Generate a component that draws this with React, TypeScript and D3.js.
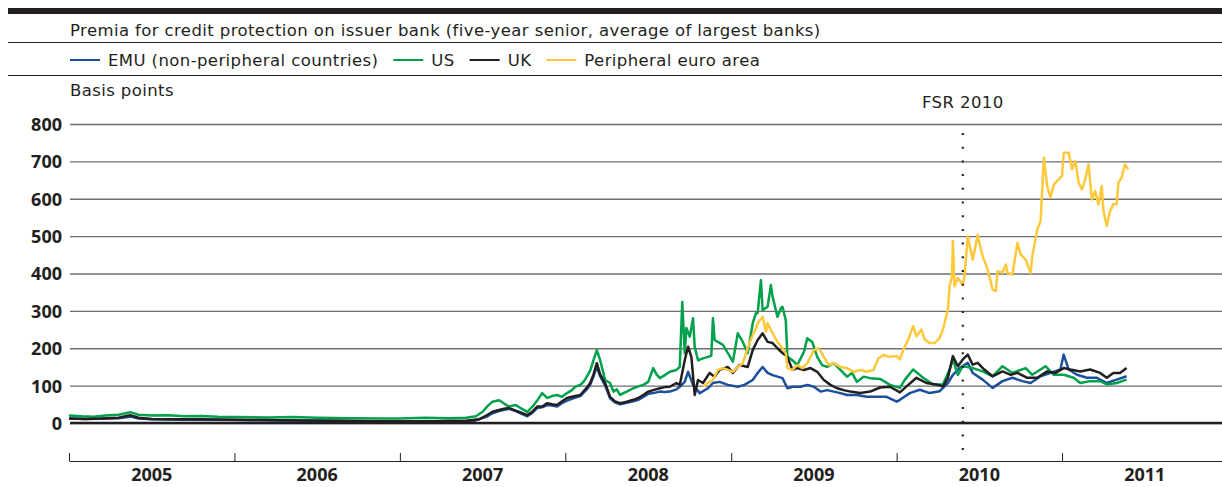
import { useRef, useEffect } from "react";
import { select, scaleTime, scaleLinear, line, axisTop, axisLeft } from "d3";

const title =
  "Premia for credit protection on issuer bank (five-year senior, average of largest banks)";
const unitLabel = "Basis points";
const seriesNames = ["EMU (non-peripheral countries)", "US", "UK", "Peripheral euro area"];
const yTicks = [0, 100, 200, 300, 400, 500, 600, 700, 800];
const yearTicks = [2005, 2006, 2007, 2008, 2009, 2010, 2011, 2012];
const yearLabels = ["2005", "2006", "2007", "2008", "2009", "2010", "2011"];
const fsrLabel = "FSR 2010";
const fsrDate = 2010.4;

// [decimal year, basis points]
const emu = [
  [2005.0, 12], [2005.1, 11], [2005.2, 12], [2005.3, 13], [2005.37, 17], [2005.42, 12],
  [2005.5, 10], [2005.7, 9], [2006.0, 8], [2006.3, 7], [2006.6, 6], [2006.9, 5],
  [2007.2, 5], [2007.45, 6], [2007.53, 18], [2007.56, 26], [2007.6, 32], [2007.66, 38],
  [2007.7, 32], [2007.73, 26], [2007.77, 18], [2007.8, 27], [2007.83, 40], [2007.86, 42],
  [2007.89, 48], [2007.92, 47], [2007.95, 44], [2007.98, 53], [2008.01, 60], [2008.06, 68],
  [2008.09, 72], [2008.13, 90], [2008.15, 102], [2008.17, 125], [2008.19, 150], [2008.21, 125],
  [2008.24, 100], [2008.27, 66], [2008.3, 55], [2008.33, 50], [2008.37, 54], [2008.41, 58],
  [2008.44, 62], [2008.47, 70], [2008.5, 78], [2008.53, 80], [2008.57, 84], [2008.6, 83],
  [2008.63, 84], [2008.67, 90], [2008.69, 97], [2008.72, 110], [2008.74, 137], [2008.77, 102],
  [2008.81, 80], [2008.86, 93], [2008.89, 107], [2008.93, 110], [2008.98, 102], [2009.04, 97],
  [2009.08, 102], [2009.13, 115], [2009.16, 134], [2009.19, 150], [2009.22, 134], [2009.25, 128],
  [2009.28, 124], [2009.31, 120], [2009.34, 93], [2009.37, 97], [2009.42, 97], [2009.46, 102],
  [2009.5, 97], [2009.54, 84], [2009.58, 88], [2009.62, 84], [2009.66, 80], [2009.7, 75],
  [2009.76, 75], [2009.82, 70], [2009.88, 70], [2009.94, 70], [2010.0, 57], [2010.02, 62],
  [2010.08, 80], [2010.14, 89], [2010.2, 80], [2010.26, 85], [2010.31, 107], [2010.34, 129],
  [2010.38, 147], [2010.43, 161], [2010.46, 134], [2010.52, 116], [2010.58, 94], [2010.64, 112],
  [2010.7, 121], [2010.76, 112], [2010.81, 107], [2010.87, 125], [2010.93, 134], [2010.99, 143],
  [2011.01, 183], [2011.04, 143], [2011.09, 129], [2011.15, 121], [2011.21, 121], [2011.27, 107],
  [2011.33, 116], [2011.39, 125],
];

const us = [
  [2005.0, 20], [2005.08, 18], [2005.15, 17], [2005.22, 20], [2005.3, 22], [2005.37, 29],
  [2005.42, 22], [2005.5, 20], [2005.6, 21], [2005.7, 18], [2005.8, 19], [2005.9, 17],
  [2006.0, 16], [2006.2, 15], [2006.35, 16], [2006.5, 14], [2006.7, 13], [2006.9, 12],
  [2007.0, 12], [2007.15, 14], [2007.3, 13], [2007.4, 14], [2007.46, 18], [2007.5, 30],
  [2007.53, 45], [2007.56, 57], [2007.6, 61], [2007.63, 52], [2007.66, 44], [2007.7, 48],
  [2007.73, 40], [2007.77, 30], [2007.8, 43], [2007.83, 60], [2007.86, 80], [2007.89, 67],
  [2007.92, 72], [2007.95, 75], [2007.98, 70], [2008.01, 80], [2008.04, 88], [2008.06, 97],
  [2008.09, 102], [2008.11, 110], [2008.13, 124], [2008.15, 140], [2008.17, 168], [2008.19, 195],
  [2008.21, 168], [2008.24, 115], [2008.27, 107], [2008.29, 84], [2008.31, 90], [2008.33, 75],
  [2008.35, 80], [2008.37, 84], [2008.41, 93], [2008.44, 98], [2008.47, 102], [2008.5, 110],
  [2008.53, 147], [2008.55, 130], [2008.57, 120], [2008.6, 128], [2008.63, 137], [2008.67, 142],
  [2008.69, 150], [2008.705, 324], [2008.72, 187], [2008.73, 254], [2008.75, 231], [2008.77, 280],
  [2008.78, 204], [2008.8, 168], [2008.83, 173], [2008.86, 177], [2008.88, 180], [2008.89, 280],
  [2008.9, 222], [2008.92, 217], [2008.95, 209], [2008.98, 187], [2009.01, 164], [2009.04, 240],
  [2009.07, 217], [2009.1, 187], [2009.13, 267], [2009.15, 294], [2009.16, 294], [2009.18, 382],
  [2009.19, 302], [2009.22, 311], [2009.24, 369], [2009.25, 338], [2009.28, 284], [2009.3, 307],
  [2009.31, 311], [2009.33, 275], [2009.34, 177], [2009.37, 168], [2009.4, 155], [2009.44, 191],
  [2009.46, 227], [2009.49, 217], [2009.52, 177], [2009.55, 155], [2009.58, 150], [2009.62, 160],
  [2009.66, 142], [2009.7, 124], [2009.73, 134], [2009.76, 110], [2009.8, 124], [2009.84, 120],
  [2009.9, 118], [2009.96, 102], [2010.02, 94], [2010.05, 116], [2010.1, 143], [2010.16, 121],
  [2010.22, 103], [2010.28, 103], [2010.32, 143], [2010.34, 170], [2010.37, 129], [2010.4, 152],
  [2010.46, 147], [2010.52, 138], [2010.58, 125], [2010.64, 152], [2010.7, 134], [2010.78, 147],
  [2010.82, 129], [2010.9, 152], [2010.95, 129], [2011.01, 129], [2011.07, 121], [2011.11, 107],
  [2011.17, 112], [2011.23, 112], [2011.27, 103], [2011.33, 107], [2011.39, 116],
];

const uk = [
  [2005.0, 12], [2005.1, 11], [2005.2, 12], [2005.3, 14], [2005.37, 21], [2005.42, 14],
  [2005.5, 11], [2005.6, 10], [2005.8, 10], [2006.0, 9], [2006.2, 8], [2006.4, 7],
  [2006.6, 6], [2006.8, 5], [2007.0, 5], [2007.2, 5], [2007.4, 6], [2007.48, 10],
  [2007.53, 22], [2007.56, 30], [2007.6, 35], [2007.63, 38], [2007.66, 40], [2007.7, 33],
  [2007.73, 28], [2007.77, 21], [2007.8, 30], [2007.83, 44], [2007.86, 44], [2007.89, 53],
  [2007.92, 50], [2007.95, 48], [2007.98, 58], [2008.01, 67], [2008.06, 72], [2008.09, 75],
  [2008.13, 95], [2008.15, 107], [2008.17, 130], [2008.19, 160], [2008.21, 130], [2008.24, 107],
  [2008.27, 70], [2008.3, 58], [2008.33, 53], [2008.37, 57], [2008.41, 62], [2008.44, 67],
  [2008.47, 75], [2008.5, 84], [2008.53, 88], [2008.57, 93], [2008.6, 96], [2008.63, 97],
  [2008.67, 107], [2008.69, 102], [2008.72, 168], [2008.74, 204], [2008.76, 177], [2008.78, 75],
  [2008.8, 115], [2008.83, 107], [2008.87, 134], [2008.9, 124], [2008.93, 142], [2008.98, 150],
  [2009.01, 134], [2009.05, 155], [2009.1, 150], [2009.13, 195], [2009.16, 222], [2009.19, 240],
  [2009.22, 217], [2009.25, 214], [2009.28, 200], [2009.31, 187], [2009.34, 177], [2009.37, 142],
  [2009.4, 147], [2009.44, 142], [2009.48, 147], [2009.52, 137], [2009.56, 115], [2009.6, 102],
  [2009.64, 93], [2009.68, 88], [2009.72, 84], [2009.78, 80], [2009.84, 84], [2009.9, 95],
  [2009.96, 97], [2010.02, 82], [2010.06, 98], [2010.12, 121], [2010.18, 107], [2010.24, 103],
  [2010.28, 98], [2010.31, 121], [2010.34, 179], [2010.37, 152], [2010.4, 170], [2010.43, 183],
  [2010.46, 156], [2010.49, 161], [2010.53, 143], [2010.58, 125], [2010.64, 138], [2010.69, 129],
  [2010.73, 134], [2010.79, 121], [2010.85, 121], [2010.91, 138], [2010.96, 134], [2011.01, 147],
  [2011.05, 143], [2011.11, 138], [2011.17, 143], [2011.23, 134], [2011.27, 121], [2011.31, 134],
  [2011.35, 134], [2011.39, 147],
];

const peripheral = [
  [2008.83, 97], [2008.86, 107], [2008.89, 115], [2008.92, 142], [2008.95, 147], [2008.98, 142],
  [2009.01, 137], [2009.04, 150], [2009.07, 160], [2009.11, 214], [2009.15, 254], [2009.16, 267],
  [2009.19, 284], [2009.21, 244], [2009.22, 267], [2009.25, 240], [2009.28, 217], [2009.31, 200],
  [2009.33, 187], [2009.34, 147], [2009.37, 142], [2009.4, 155], [2009.43, 147], [2009.46, 160],
  [2009.5, 195], [2009.53, 200], [2009.56, 177], [2009.59, 155], [2009.62, 160], [2009.66, 150],
  [2009.7, 147], [2009.74, 137], [2009.78, 142], [2009.82, 137], [2009.86, 142], [2009.89, 173],
  [2009.92, 182], [2009.96, 177], [2010.0, 179], [2010.02, 170], [2010.04, 196], [2010.07, 223],
  [2010.1, 259], [2010.12, 232], [2010.15, 250], [2010.17, 223], [2010.2, 214], [2010.23, 214],
  [2010.26, 228], [2010.28, 250], [2010.31, 304], [2010.32, 366], [2010.335, 393], [2010.34, 487],
  [2010.35, 366], [2010.37, 388], [2010.4, 370], [2010.41, 393], [2010.43, 500], [2010.44, 478],
  [2010.46, 437], [2010.49, 504], [2010.5, 482], [2010.52, 446], [2010.55, 411], [2010.58, 357],
  [2010.6, 353], [2010.61, 406], [2010.64, 402], [2010.66, 424], [2010.67, 402], [2010.7, 397],
  [2010.73, 482], [2010.75, 451], [2010.78, 437], [2010.81, 402], [2010.82, 446], [2010.85, 518],
  [2010.87, 540], [2010.89, 710], [2010.91, 634], [2010.93, 603], [2010.95, 638], [2010.98, 652],
  [2011.0, 661], [2011.01, 723], [2011.04, 723], [2011.06, 679], [2011.08, 701], [2011.1, 643],
  [2011.12, 625], [2011.14, 652], [2011.16, 692], [2011.18, 598], [2011.2, 621], [2011.22, 585],
  [2011.24, 634], [2011.25, 567], [2011.27, 527], [2011.29, 567], [2011.31, 585], [2011.33, 585],
  [2011.34, 643], [2011.36, 656], [2011.38, 692], [2011.4, 679],
];

const allSeries = [emu, us, uk, peripheral];
const colors = ["#1c4f9c", "#00a14b", "#231f20", "#fdc83a"];
const FONT = "'DejaVu Sans', sans-serif";
const BOLD_FONT = "'Open Sans', sans-serif";

const toDate = (t: number) => {
  const yr = Math.floor(t);
  const a = new Date(yr, 0, 1).getTime();
  const b = new Date(yr + 1, 0, 1).getTime();
  return new Date(a + (t - yr) * (b - a));
};

export default function App() {
  const svgRef = useRef<SVGSVGElement>(null);

  useEffect(() => {
    const svg = select(svgRef.current);
    svg.selectAll("*").remove();

    const W = 1222;
    const left = 70;
    const fs = 16.5;
    const ls = 0.4;

    // header block
    svg.append("rect").attr("x", 8).attr("y", 8).attr("width", W - 8).attr("height", 6).attr("fill", "#231f20");
    svg.append("text").attr("x", left).attr("y", 36).attr("font-size", fs).attr("letter-spacing", ls)
      .attr("fill", "#231f20").text(title);
    [42.5, 75.5].forEach((y) =>
      svg.append("line").attr("x1", 8).attr("x2", W).attr("y1", y).attr("y2", y).attr("stroke", "#231f20").attr("stroke-width", 1)
    );

    // legend
    let lx = left;
    seriesNames.forEach((name, i) => {
      svg.append("line").attr("x1", lx).attr("x2", lx + 30).attr("y1", 60).attr("y2", 60)
        .attr("stroke", colors[i]).attr("stroke-width", 2);
      const t = svg.append("text").attr("x", lx + 38).attr("y", 65.5).attr("font-size", fs)
        .attr("letter-spacing", ls).attr("fill", "#231f20").text(name);
      const w = (t.node() as SVGTextElement).getComputedTextLength();
      lx += 38 + w + 15;
    });

    svg.append("text").attr("x", left).attr("y", 96).attr("font-size", fs).attr("letter-spacing", ls)
      .attr("fill", "#231f20").text(unitLabel);

    // scales
    const x = scaleTime()
      .domain([toDate(yearTicks[0]), toDate(yearTicks[yearTicks.length - 1])])
      .range([69, 69 + 165.5 * (yearTicks.length - 1)]);
    const y = scaleLinear().domain([0, 800]).range([423, 124]);

    // y grid + labels
    const gy = svg.append("g").attr("transform", `translate(${left},0)`)
      .call(axisLeft(y).tickValues(yTicks).tickSizeInner(-(W - left)).tickSizeOuter(0).tickPadding(8));
    gy.select(".domain").remove();
    gy.selectAll(".tick line").attr("stroke", "#6d6e71").attr("stroke-width", 1.3);
    gy.selectAll(".tick text").attr("font-family", BOLD_FONT).attr("font-weight", 700)
      .attr("font-size", 18).attr("fill", "#231f20").attr("dy", "0.36em");

    // x axis
    const gx = svg.append("g").attr("transform", "translate(0,461)")
      .call(axisTop(x).tickValues(yearTicks.map(toDate)).tickSizeInner(8).tickSizeOuter(0).tickFormat(() => ""));
    gx.select(".domain").attr("stroke", "#231f20");
    gx.selectAll(".tick line").attr("stroke", "#231f20");

    svg.append("g").selectAll("text").data(yearLabels).join("text")
      .attr("x", (d) => x(toDate(+d + 0.5)))
      .attr("y", 481)
      .attr("text-anchor", "middle")
      .attr("font-family", BOLD_FONT)
      .attr("font-weight", 700)
      .attr("font-size", 18)
      .attr("fill", "#231f20")
      .text((d) => d);

    // series (peripheral drawn last, on top)
    const path = line<number[]>()
      .x((d) => x(toDate(d[0])))
      .y((d) => y(d[1]));
    svg.append("g").selectAll("path").data(allSeries).join("path")
      .attr("d", (d) => path(d))
      .attr("fill", "none")
      .attr("stroke", (_, i) => colors[i])
      .attr("stroke-width", 2.5)
      .attr("stroke-linejoin", "round");

    // zero line
    svg.append("line").attr("x1", left).attr("x2", W).attr("y1", y(0)).attr("y2", y(0))
      .attr("stroke", "#231f20").attr("stroke-width", 2.5);

    // FSR marker
    const fx = x(toDate(fsrDate));
    svg.append("line").attr("x1", fx).attr("x2", fx).attr("y1", 133).attr("y2", 456)
      .attr("stroke", "#231f20").attr("stroke-width", 2.2).attr("stroke-dasharray", "2,11.7");
    svg.append("text").attr("x", fx).attr("y", 107.5).attr("text-anchor", "middle")
      .attr("font-size", fs).attr("letter-spacing", ls).attr("fill", "#231f20").text(fsrLabel);
  }, []);

  return (
    <svg
      ref={svgRef}
      width={1222}
      height={487}
      style={{ position: "absolute", left: 0, top: 0, background: "#fff", fontFamily: FONT }}
    />
  );
}
